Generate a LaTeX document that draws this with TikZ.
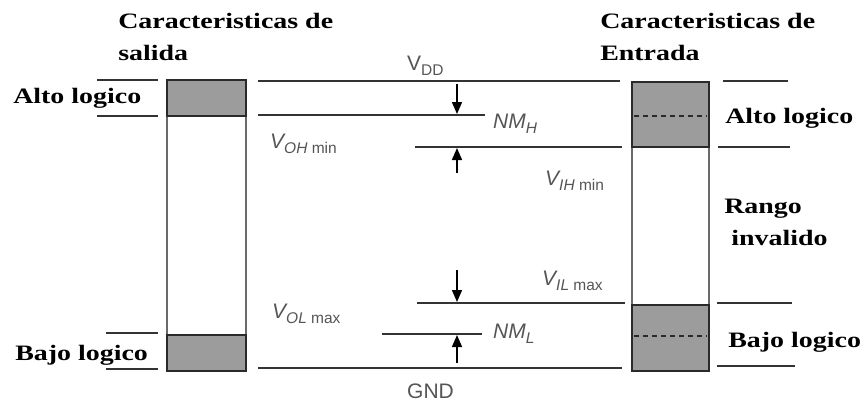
\documentclass[tikz,border=0pt]{standalone}
\usepackage{fontspec}
\setmainfont{Liberation Serif}
\newfontfamily\sansf{Liberation Sans}
\usetikzlibrary{arrows.meta}
\definecolor{lineg}{HTML}{333333}
\definecolor{boxd}{HTML}{2A2A2A}
\definecolor{boxl}{HTML}{6A6A6A}
\definecolor{fillg}{HTML}{9C9C9C}
\definecolor{labg}{HTML}{555555}
\newcommand\lowsub[1]{\raisebox{-5pt}{\fontsize{15.5}{15.5}\selectfont #1}}
\begin{document}
\begin{tikzpicture}[x=1pt,y=-1pt,
  ttl/.style={font=\fontsize{22}{22}\selectfont\bfseries, text=black, xscale=1.27, inner sep=0pt, anchor=base west},
  lvl/.style={draw=lineg, line width=1.8pt},
  grayblk/.style={draw=boxd, fill=fillg, line width=1.9pt},
  colbox/.style={draw=boxl, line width=1.7pt},
  lab/.style={font=\sansf\fontsize{21}{21}\selectfont, text=labg, inner sep=0pt, anchor=base west},
  arr/.style={-{Triangle[length=12pt,width=10pt]}, draw=black, line width=1.5pt}]
\useasboundingbox (0,0) rectangle (865,402);
% titles
\node[ttl] (t1a) at (118,28) {Caracteristicas de};
\node[ttl] (t1b) at (118,60) {salida};
\node[ttl] (t2a) at (600,28) {Caracteristicas de};
\node[ttl] (t2b) at (600,60) {Entrada};
\node[ttl] (altoL) at (13,103) {Alto logico};
\node[ttl] (bajoL) at (15,360) {Bajo logico};
\node[ttl] (altoR) at (725,123) {Alto logico};
\node[ttl] (rango) at (724,213) {Rango};
\node[ttl] (inval) at (731,245) {invalido};
\node[ttl] (bajoR) at (728,347) {Bajo logico};
% left column
\draw[colbox] (167,80) rectangle (246,371);
\draw[grayblk] (167,80) rectangle (246,116);
\draw[grayblk] (167,335) rectangle (246,371);
\draw[lvl] (97,80) -- (158,80);
\draw[lvl] (97,116) -- (158,116);
\draw[lvl] (106,333) -- (158,333);
\draw[lvl] (106,369) -- (158,369);
% right column
\draw[colbox] (632,82) rectangle (709,371);
\draw[grayblk] (632,82) rectangle (709,147);
\draw[grayblk] (632,305) rectangle (709,371);
\draw[boxd, line width=1.3pt, dash pattern=on 5pt off 4pt] (634,116) -- (707,116);
\draw[boxd, line width=1.3pt, dash pattern=on 5pt off 4pt] (634,336) -- (707,336);
\draw[lvl] (723,81) -- (788,81);
\draw[lvl] (718,147) -- (790,147);
\draw[lvl] (717,303) -- (792,303);
\draw[lvl] (717,366) -- (795,366);
% levels
\draw[lvl] (258,81) -- (620,81);
\draw[lvl] (258,115) -- (485,115);
\draw[lvl] (415,147) -- (622,147);
\draw[lvl] (417,303) -- (625,303);
\draw[lvl] (382,334) -- (482,334);
\draw[lvl] (258,368) -- (622,368);
% arrows
\coordinate (a1s) at (457,84);
\coordinate (a1e) at (457,114);
\coordinate (a2s) at (457,173);
\coordinate (a2e) at (457,148);
\coordinate (a3s) at (457,270);
\coordinate (a3e) at (457,302);
\coordinate (a4s) at (457,363);
\coordinate (a4e) at (457,335);
\draw[arr] (a1s) -- (a1e);
\draw[arr] (a2s) -- (a2e);
\draw[arr] (a3s) -- (a3e);
\draw[arr] (a4s) -- (a4e);
% labels
\node[lab] (vdd) at (407,70) {V\lowsub{DD}};
\node[lab] (nmh) at (493,128) {\itshape NM\lowsub{H}};
\node[lab] (voh) at (270,148) {\itshape V\lowsub{\itshape OH\upshape\ min}};
\node[lab] (vih) at (545,185) {\itshape V\lowsub{\itshape IH\upshape\ min}};
\node[lab] (vil) at (542,285) {\itshape V\lowsub{\itshape IL\upshape\ max}};
\node[lab] (vol) at (272,318) {\itshape V\lowsub{\itshape OL\upshape\ max}};
\node[lab] (nml) at (493,338) {\itshape NM\lowsub{L}};
\node[lab] (gnd) at (407,398) {GND};
\end{tikzpicture}
\end{document}
